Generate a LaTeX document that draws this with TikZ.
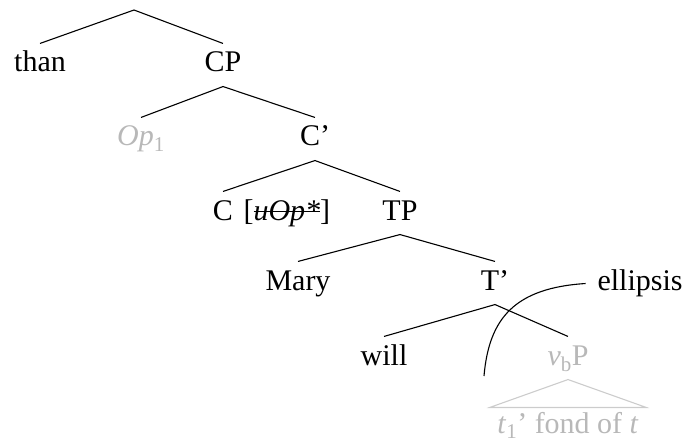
\documentclass[tikz,border=0pt]{standalone}
\usepackage{fontspec}
\setmainfont{Liberation Serif}
\usepackage{tikz}

\definecolor{faded}{gray}{0.72}
\definecolor{fadedline}{gray}{0.8}
\newsavebox\strikebox
\newcommand\strikeout[1]{\sbox\strikebox{#1}\rlap{\rule[0.26em]{\wd\strikebox}{0.045em}}\usebox\strikebox}

\begin{document}
\begin{tikzpicture}[x=1pt, y=-1pt, line width=1.1pt,
	every node/.style={font=\fontsize{30}{36}\selectfont, anchor=base,
		text height=21pt, text depth=7pt, inner ysep=7pt},
	gone/.style={text=faded}]
	\useasboundingbox (0,0) rectangle (689,444);
	\coordinate (root) at (134,10);
	\node (than) at (40,72) {than};
	\node (cp) at (223,72) {CP};
	\node[gone] (op) at (141,146) {\textit{Op}\textsubscript{1}};
	\node (cbar) at (315,146) {C’};
	\node (c) at (223,220) {C};
	\node[anchor=base west, inner xsep=0pt] (feat) at (243,220) {[\strikeout{\textit{uOp*}}]};
	\node (tp) at (400,220) {TP};
	\node (mary) at (298,290) {Mary};
	\node (tbar) at (495,290) {T’};
	\node (will) at (384,365) {will};
	\node[gone] (vbp) at (568,365) {\textit{v}\textsubscript{b}P};
	\node[gone, inner xsep=7pt, text height=18pt] (fond) at (568,433) {\textit{t}\textsubscript{1}’ fond of \textit{t}};
	\node (ellipsis) at (640,290) {ellipsis};
	\coordinate (cut) at (484,376);

	\draw (than.north) -- (root) -- (cp.north);
	\draw (op.north) -- (cp.south) -- (cbar.north);
	\draw (c.north) -- (cbar.south) -- (tp.north);
	\draw (mary.north) -- (tp.south) -- (tbar.north);
	\draw (will.north) -- (tbar.south) -- (vbp.north);
	\draw[fadedline] (vbp.south) -- (fond.north west) -- (fond.north east) -- cycle;
	% ellipsis site
	\draw[shorten <=8pt] (ellipsis.west) .. controls (515,288) and (489,318) .. (cut);
\end{tikzpicture}
\end{document}
